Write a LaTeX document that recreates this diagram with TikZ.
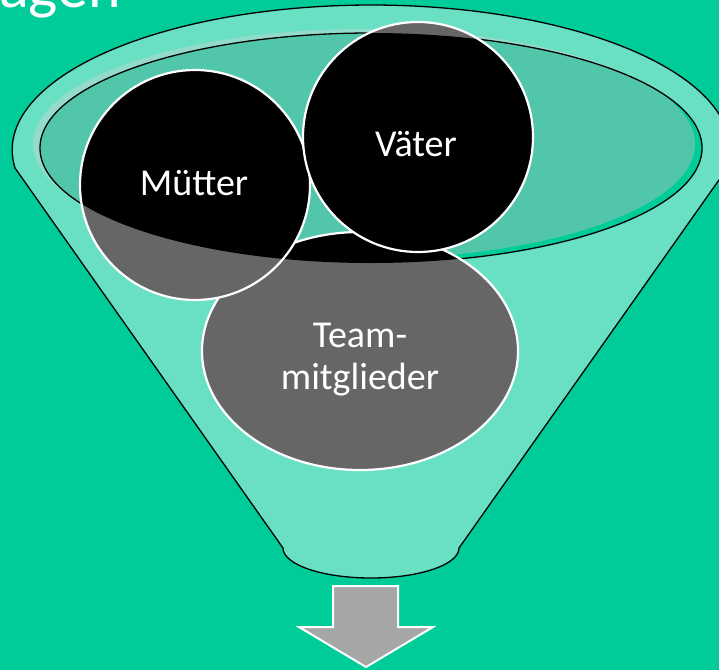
\documentclass[tikz,border=0pt]{standalone}
\usepackage{fontspec}
\setmainfont{Carlito}
\definecolor{bg}{HTML}{00CC99}
\definecolor{ring}{HTML}{69E0C3}
\definecolor{band}{HTML}{93DCCB}
\definecolor{innerfill}{HTML}{52C6AA}
\definecolor{ballgray}{HTML}{666666}
\definecolor{arrowgray}{HTML}{A6A6A6}
\begin{document}
\begin{tikzpicture}[x=1pt,y=-1pt,
  lbl/.style={text=white,font=\fontsize{38}{42}\selectfont,align=center,inner sep=0pt},
  ballline/.style={draw=white,line width=2.2pt},
  funnelline/.style={draw=black,line width=1.3pt}]
\useasboundingbox (0,0) rectangle (719,670);
\clip (0,0) rectangle (719,670);
\fill[bg] (0,0) rectangle (719,670);
% title fragment
\node[anchor=base east, text=white, font=\fontsize{62}{70}\selectfont, inner sep=0pt] (title) at (121,7) {agen};
% funnel body
\path[fill=ring, funnelline] (15,168)
  arc[start angle=172.87, end angle=367.13, x radius=359, y radius=145]
  -- (459,548) .. controls (459,564.6) and (419.6,578) .. (371,578)
  .. controls (322.4,578) and (283,564.6) .. (283,548) -- cycle;
% funnel mouth
\fill[band] (364,144) ellipse[x radius=331, y radius=115];
\fill[bg] (371,148) ellipse[x radius=331, y radius=115];
\begin{scope}
  \clip (371,148) ellipse[x radius=331, y radius=115];
  \fill[innerfill] (364,144) ellipse[x radius=331, y radius=115];
\end{scope}
\draw[funnelline] (371,148) ellipse[x radius=331, y radius=115];
% Team ellipse
\fill[ballgray] (360,351) ellipse[x radius=158, y radius=119];
\begin{scope}
  \clip (371,148) ellipse[x radius=331, y radius=115];
  \fill[black] (360,351) ellipse[x radius=158, y radius=119];
\end{scope}
\draw[ballline] (360,351) ellipse[x radius=158, y radius=119];
% Muetter circle
\fill[ballgray] (195,185) circle[radius=115];
\begin{scope}
  \clip (371,148) ellipse[x radius=331, y radius=115];
  \fill[black] (195,185) circle[radius=115];
\end{scope}
\draw[ballline] (195,185) circle[radius=115];
% Vaeter circle
\fill[ballgray] (418,137) circle[radius=115];
\begin{scope}
  \clip (371,148) ellipse[x radius=331, y radius=115];
  \fill[black] (418,137) circle[radius=115];
\end{scope}
\draw[ballline] (418,137) circle[radius=115];
% labels
\node[lbl, anchor=base] (muetter) at (194,195) {Mütter};
\node[lbl, anchor=base] (vaeter) at (416,156) {Väter};
\node[lbl] (team) at (360,360) {Team-\\mitglieder};
% arrow
\path[fill=arrowgray, draw=white, line width=2pt, line join=miter]
  (333,586) -- (398,586) -- (398,627) -- (433,627) -- (366,667)
  -- (299,627) -- (333,627) -- cycle;
\end{tikzpicture}
\end{document}
